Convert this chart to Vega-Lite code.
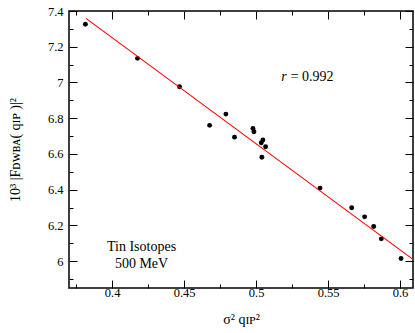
{
  "$schema": "https://vega.github.io/schema/vega-lite/v6.json",
  "width": 344,
  "height": 277,
  "autosize": {"type": "none"},
  "padding": {"left": 69, "top": 11, "right": 2, "bottom": 45},
  "background": "white",
  "config": {
    "view": {"stroke": "black", "strokeWidth": 1.5},
    "font": "Liberation Serif",
    "axis": {
      "domain": false,
      "grid": false,
      "tickColor": "black",
      "tickWidth": 1,
      "labelColor": "black",
      "labelFont": "Liberation Serif",
      "labelFontSize": 12.5,
      "titleFont": "Liberation Serif",
      "titleFontWeight": "normal",
      "titleFontSize": 14,
      "titleColor": "black",
      "labelOverlap": false,
      "labelFlush": false,
      "labelBound": false
    }
  },
  "datasets": {
    "points": [
      {"s": 0.3814, "f": 7.326},
      {"s": 0.4176, "f": 7.135},
      {"s": 0.4468, "f": 6.976},
      {"s": 0.4677, "f": 6.760},
      {"s": 0.479, "f": 6.823},
      {"s": 0.485, "f": 6.694},
      {"s": 0.4978, "f": 6.743},
      {"s": 0.4985, "f": 6.724},
      {"s": 0.5036, "f": 6.663},
      {"s": 0.5047, "f": 6.678},
      {"s": 0.5066, "f": 6.640},
      {"s": 0.504, "f": 6.582},
      {"s": 0.5444, "f": 6.409},
      {"s": 0.5664, "f": 6.299},
      {"s": 0.5754, "f": 6.248},
      {"s": 0.5817, "f": 6.194},
      {"s": 0.587, "f": 6.125},
      {"s": 0.6007, "f": 6.015}
    ],
    "fit": [
      {"s": 0.3818, "f": 7.359},
      {"s": 0.609, "f": 6.01}
    ],
    "rlabel": [
      {"s": 0.5226, "f": 7.03, "a": "r", "b": "= 0.992"}
    ],
    "notes": [
      {"s": 0.4204, "f": 6.079, "t": "Tin Isotopes"},
      {"s": 0.4204, "f": 5.983, "t": "500 MeV"}
    ]
  },
  "layer": [
    {
      "data": {"name": "points"},
      "mark": {"type": "point", "filled": true, "color": "black", "opacity": 1, "size": 24},
      "encoding": {
        "x": {
          "field": "s", "type": "quantitative",
          "scale": {"domain": [0.37, 0.609], "nice": false, "zero": false},
          "axis": {
            "orient": "bottom",
            "values": [0.375, 0.4, 0.425, 0.45, 0.475, 0.5, 0.525, 0.55, 0.575, 0.6],
            "format": "~g",
            "labelExpr": "abs(datum.value*20-round(datum.value*20))<0.01 ? datum.label : ''",
            "tickSize": {"condition": {"test": "abs(datum.value*20-round(datum.value*20))<0.01", "value": -8}, "value": -4},
            "labelPadding": 6,
            "title": "σ² qɪᴘ²",
            "titlePadding": 10
          }
        },
        "y": {
          "field": "f", "type": "quantitative",
          "scale": {"domain": [5.85, 7.4], "nice": false, "zero": false},
          "axis": {
            "orient": "left",
            "values": [5.9, 6, 6.1, 6.2, 6.3, 6.4, 6.5, 6.6, 6.7, 6.8, 6.9, 7, 7.1, 7.2, 7.3, 7.4],
            "format": "~g",
            "labelExpr": "abs(datum.value*5-round(datum.value*5))<0.01 ? datum.label : ''",
            "tickSize": {"condition": {"test": "abs(datum.value*5-round(datum.value*5))<0.01", "value": -8}, "value": -4},
            "labelPadding": 14,
            "title": "10³   |Fᴅᴡʙᴀ( qɪᴘ )|²",
            "titlePadding": 25
          }
        }
      }
    },
    {
      "data": {"name": "fit"},
      "mark": {"type": "line", "color": "#ff0000", "strokeWidth": 1.1},
      "encoding": {
        "x": {
          "field": "s", "type": "quantitative",
          "axis": {
            "orient": "top",
            "values": [0.375, 0.4, 0.425, 0.45, 0.475, 0.5, 0.525, 0.55, 0.575, 0.6],
            "labels": false,
            "title": null,
            "tickSize": {"condition": {"test": "abs(datum.value*20-round(datum.value*20))<0.01", "value": -8}, "value": -4}
          }
        },
        "y": {
          "field": "f", "type": "quantitative",
          "axis": {
            "orient": "right",
            "values": [5.9, 6, 6.1, 6.2, 6.3, 6.4, 6.5, 6.6, 6.7, 6.8, 6.9, 7, 7.1, 7.2, 7.3, 7.4],
            "labels": false,
            "title": null,
            "tickSize": {"condition": {"test": "abs(datum.value*5-round(datum.value*5))<0.01", "value": -8}, "value": -4}
          }
        }
      }
    },
    {
      "data": {"name": "rlabel"},
      "mark": {"type": "text", "align": "right", "baseline": "middle", "fontStyle": "italic", "fontSize": 14, "color": "black", "dx": -2},
      "encoding": {
        "x": {"field": "s", "type": "quantitative", "axis": null},
        "y": {"field": "f", "type": "quantitative", "axis": null},
        "text": {"field": "a"}
      }
    },
    {
      "data": {"name": "rlabel"},
      "mark": {"type": "text", "align": "left", "baseline": "middle", "fontSize": 14, "color": "black", "dx": 2},
      "encoding": {
        "x": {"field": "s", "type": "quantitative", "axis": null},
        "y": {"field": "f", "type": "quantitative", "axis": null},
        "text": {"field": "b"}
      }
    },
    {
      "data": {"name": "notes"},
      "mark": {"type": "text", "align": "center", "baseline": "middle", "fontSize": 14, "color": "black"},
      "encoding": {
        "x": {"field": "s", "type": "quantitative", "axis": null},
        "y": {"field": "f", "type": "quantitative", "axis": null},
        "text": {"field": "t"}
      }
    }
  ],
  "resolve": {"axis": {"x": "independent", "y": "independent"}}
}
